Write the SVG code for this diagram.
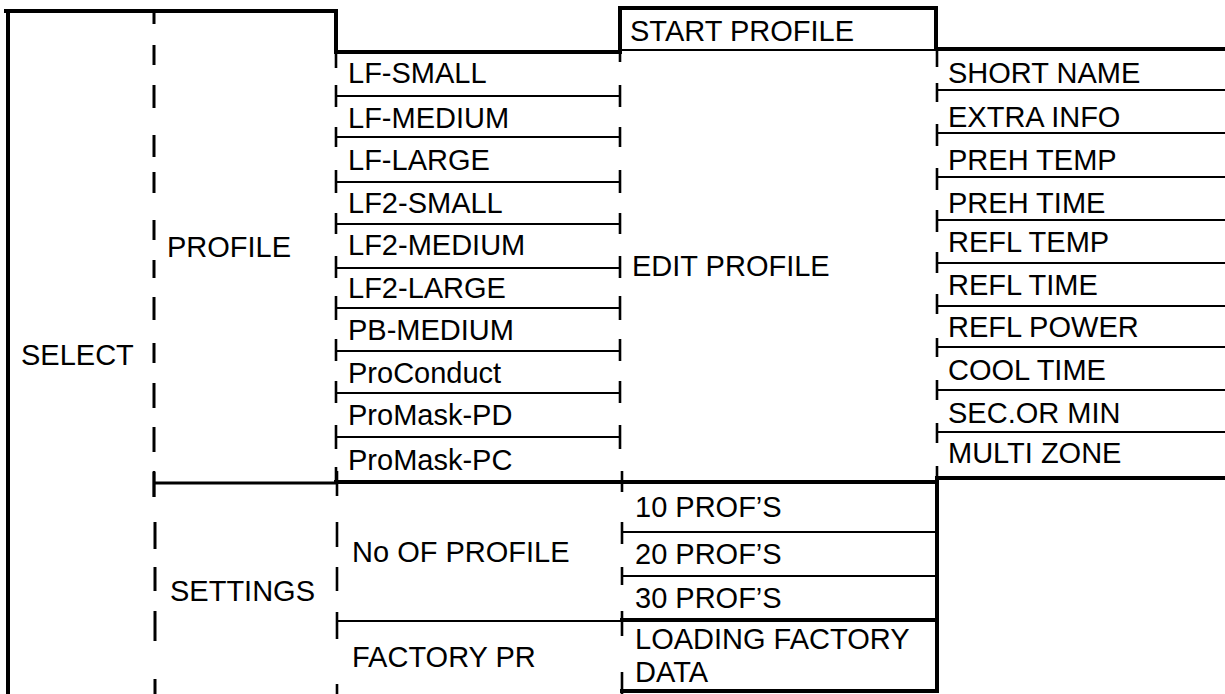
<svg xmlns="http://www.w3.org/2000/svg" width="1225" height="694" viewBox="0 0 1225 694">
<style>
  .thick{stroke:#000;stroke-width:4;fill:none;stroke-linecap:square}
  .med{stroke:#000;stroke-width:3;fill:none}
  .thin{stroke:#000;stroke-width:2.2;fill:none}
  .tick{stroke:#000;stroke-width:2.6;fill:none}
  .dash{stroke:#000;stroke-width:3;fill:none}
  text{font-family:"Liberation Sans",Arial,sans-serif;font-size:29px;fill:#000}
</style>
<rect x="0" y="0" width="1225" height="694" fill="#fff"/>
<g id="connectors">
  <path class="thick" d="M6,11 H336 V52 H620"/>
  <path class="thick" d="M8,11 V694"/>
  <path class="thick" d="M620,52 V8 H936 V49 H1225"/>
  <path class="thin" d="M620,50 H936"/>
  <path class="dash" d="M154,13V24 M154,45V65 M154,85V108 M154,135V157 M154,172V193 M154,220V240 M154,260V278 M154,297V320 M154,343V363 M154,383V408 M154,427V452 M154,472V497 M155,522V549 M155,567V591 M155,611V641 M155,679V694"/>
  <path class="thin" d="M336,96H620 M336,137H620 M336,182H620 M336,224H620 M336,268H620 M336,308H620 M336,351H620 M336,393H620 M336,437H620"/>
  <path class="tick" d="M336,52V68 M620,52V62 M336,85V107 M620,85V107 M336,127V147 M620,127V147 M336,170V193 M620,170V193 M336,213V234 M620,213V234 M336,256V278 M620,256V278 M336,296V320 M620,296V320 M336,339V361 M620,339V361 M336,381V403 M620,381V403 M336,425V449 M620,425V449 M336,467V483"/>
  <path class="thin" d="M937,90H1225 M937,133H1225 M937,177H1225 M937,220H1225 M937,263H1225 M937,306H1225 M937,347H1225 M937,390H1225 M937,432H1225"/>
  <path class="tick" d="M937,49V67 M937,83V102 M937,124V146 M937,168V190 M937,210V232 M937,252V273 M937,294V314 M937,338V357 M937,380V400 M937,423V443 M937,466V490"/>
  <path class="med" d="M154,483H336"/>
  <path class="thick" d="M336,482H937 M937,478H1225"/>
  <path class="tick" d="M154,471V497"/>
  <path class="tick" d="M337,471V496 M337,522V547 M337,567V591 M337,612V639 M337,684V694"/>
  <path class="tick" d="M622,471V492 M622,522V544 M622,567V585 M622,611V636 M622,672V694"/>
  <path class="thin" d="M622,532H937 M622,576H937 M337,621H622"/>
  <path class="thick" d="M622,620H937 M937,478V691 M622,691H937"/>
</g>
<g id="select"><text x="21" y="365">SELECT</text></g>
<g id="profile"><text x="167" y="257">PROFILE</text></g>
<g id="settings"><text x="170" y="601">SETTINGS</text></g>
<g id="lf-small"><text x="348" y="83">LF-SMALL</text></g>
<g id="lf-medium"><text x="348" y="128">LF-MEDIUM</text></g>
<g id="lf-large"><text x="348" y="170">LF-LARGE</text></g>
<g id="lf2-small"><text x="348" y="213">LF2-SMALL</text></g>
<g id="lf2-medium"><text x="348" y="255">LF2-MEDIUM</text></g>
<g id="lf2-large"><text x="348" y="298">LF2-LARGE</text></g>
<g id="pb-medium"><text x="348" y="340">PB-MEDIUM</text></g>
<g id="proconduct"><text x="348" y="383">ProConduct</text></g>
<g id="promask-pd"><text x="348" y="425">ProMask-PD</text></g>
<g id="promask-pc"><text x="348" y="470">ProMask-PC</text></g>
<g id="start-profile"><text x="630" y="41">START PROFILE</text></g>
<g id="edit-profile"><text x="632" y="276">EDIT PROFILE</text></g>
<g id="short-name"><text x="948" y="83">SHORT NAME</text></g>
<g id="extra-info"><text x="948" y="127">EXTRA INFO</text></g>
<g id="preh-temp"><text x="948" y="170">PREH TEMP</text></g>
<g id="preh-time"><text x="948" y="213">PREH TIME</text></g>
<g id="refl-temp"><text x="948" y="252">REFL TEMP</text></g>
<g id="refl-time"><text x="948" y="295">REFL TIME</text></g>
<g id="refl-power"><text x="948" y="337">REFL POWER</text></g>
<g id="cool-time"><text x="948" y="380">COOL TIME</text></g>
<g id="sec-or-min"><text x="948" y="423">SEC.OR MIN</text></g>
<g id="multi-zone"><text x="948" y="463">MULTI ZONE</text></g>
<g id="no-of-profile"><text x="352" y="562">No OF PROFILE</text></g>
<g id="factory-pr"><text x="352" y="667">FACTORY PR</text></g>
<g id="prof-10"><text x="635" y="517">10 PROF’S</text></g>
<g id="prof-20"><text x="635" y="564">20 PROF’S</text></g>
<g id="prof-30"><text x="635" y="608">30 PROF’S</text></g>
<g id="loading-factory-data"><text x="635" y="649">LOADING FACTORY</text><text x="635" y="682">DATA</text></g>
</svg>
